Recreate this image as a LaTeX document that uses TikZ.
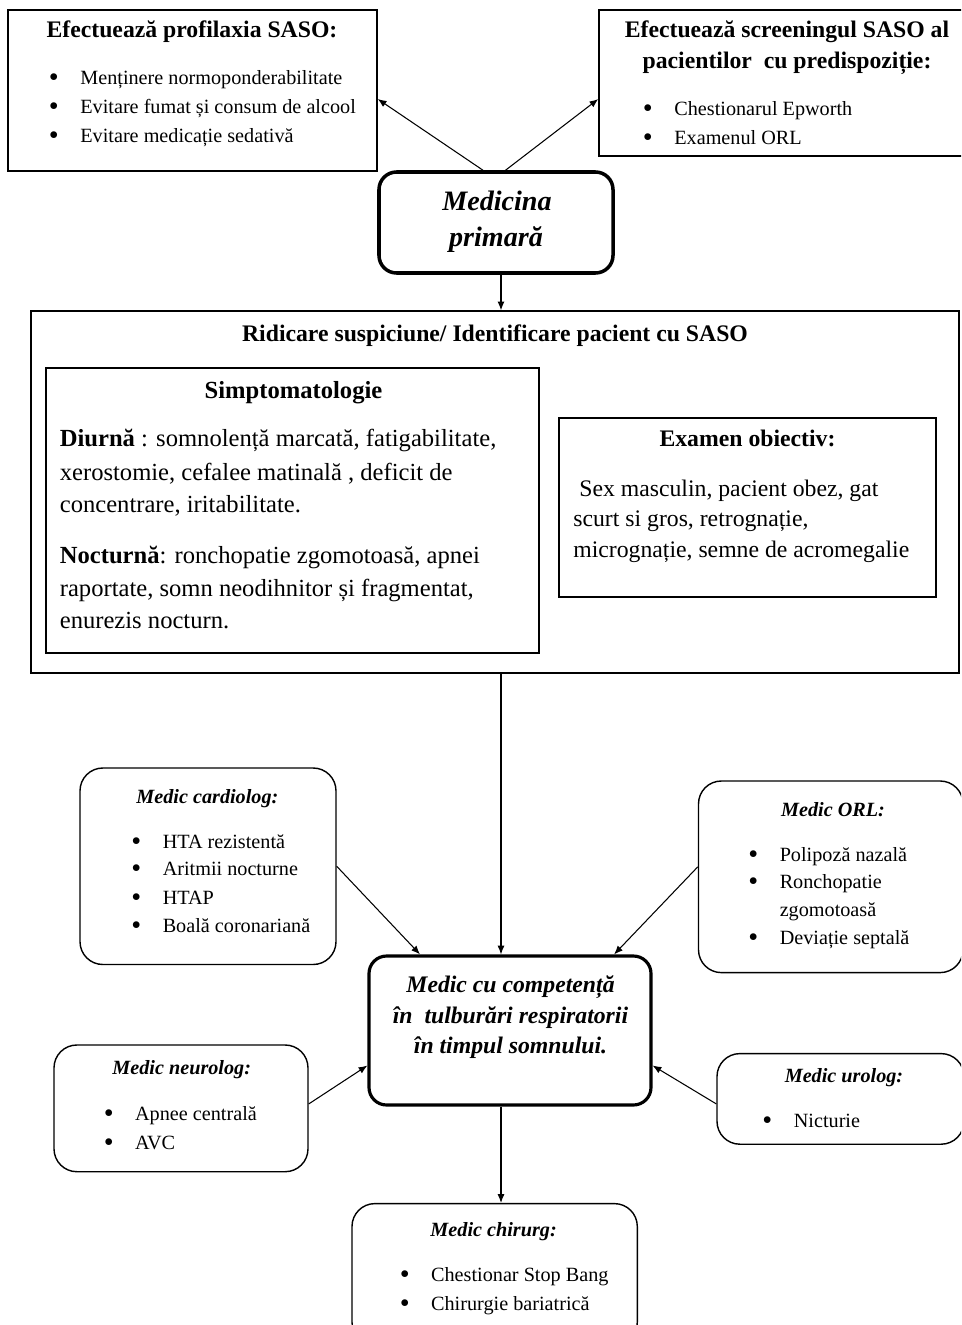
\documentclass[tikz,border=0pt]{standalone}
\usepackage{fontspec}
\setmainfont{Liberation Serif}
\usetikzlibrary{arrows.meta,calc,fit}
\newcommand{\bul}{\llap{\raisebox{-0.1em}{\scalebox{1.4}{\textbullet}}\hspace{0.43cm}}}
\tikzset{
	box/.style={draw, line width=0.8pt, inner sep=0pt},
	rbox/.style={box, rounded corners=13pt},
	mainbox/.style={draw, line width=1.8pt, inner sep=0pt, rounded corners=10pt},
	head/.style={anchor=base, inner sep=0pt, font=\fontsize{13.5}{16}\selectfont\bfseries},
	item/.style={anchor=base west, inner sep=0pt, font=\fontsize{11.5}{14}\selectfont},
	medhead/.style={anchor=base, inner sep=0pt, font=\fontsize{11.5}{14}\selectfont\bfseries\itshape},
	para/.style={anchor=base west, inner sep=0pt, font=\fontsize{14}{17}\selectfont},
	exam/.style={anchor=base west, inner sep=0pt, font=\fontsize{13.5}{16}\selectfont},
	arr/.style={-{Latex[length=5pt,width=4pt]}, line width=0.6pt}
}

\begin{document}
\begin{tikzpicture}[x=0.02cm, y=-0.02cm]
		%%%%% START %%%%%
		\useasboundingbox (0,0) rectangle (961,1325);
		\clip (0,0) rectangle (961,1325);
		
		% medicina primara si cele doua casete de sus
		\node[box, fit={(8,10) (377,171)}] (prof) {};
		\node[head] (profT) at (192,37) {Efectuează profilaxia SASO:};
		\node[item] (prof1) at (80,84) {\bul Menținere normoponderabilitate};
		\node[item] (prof2) at (80,113) {\bul Evitare fumat și consum de alcool};
		\node[item] (prof3) at (80,142.5) {\bul Evitare medicație sedativă};
		
		\node[box, fit={(599,10) (966,156)}] (scr) {};
		\node[head] (scrT1) at (787,37) {Efectuează screeningul SASO al};
		\node[head] (scrT2) at (787,68) {pacientilor\ \ cu predispoziție:};
		\node[item] (scr1) at (674,115) {\bul Chestionarul Epworth};
		\node[item] (scr2) at (674,144.5) {\bul Examenul ORL};
		
		\node[mainbox, line width=2pt, fit={(379,172) (613,273)}] (prim) {};
		\node[anchor=base, inner sep=0pt, font=\fontsize{16}{19}\selectfont\bfseries\itshape] (primT1) at (497,210) {Medicina};
		\node[anchor=base, inner sep=0pt, font=\fontsize{16}{19}\selectfont\bfseries\itshape] (primT2) at (496,246.5) {primară};
		
		\draw[arr] ($(prim.north)+(-13,0)$) -- ($(prof.east)+(0,8.5)$);
		\draw[arr] ($(prim.north)+(9.5,0)$) -- ($(scr.west)+(0,16)$);
		
		% suspiciune
		\coordinate (axis) at (501,0);
		\node[box, fit={(31,311) (959,673)}] (ridic) {};
		\node[head] (ridicT) at (495,341.5) {Ridicare suspiciune/ Identificare pacient cu SASO};
		\draw[arr] (prim.south -| axis) -- (ridic.north -| axis);
		
		\node[box, fit={(46,368) (539,653)}] (simpt) {};
		\node[head, font=\fontsize{14}{17}\selectfont\bfseries] (simptT) at (293.5,398) {Simptomatologie};
		\node[para] (d1) at (59.5,446.5) {\textbf{Diurnă} : somnolență marcată, fatigabilitate,};
		\node[para] (d2) at (59.5,480) {xerostomie, cefalee matinală , deficit de};
		\node[para] (d3) at (59.5,512) {concentrare, iritabilitate.};
		\node[para] (n1) at (59.5,563) {\textbf{Nocturnă}: ronchopatie zgomotoasă, apnei};
		\node[para] (n2) at (59.5,596.5) {raportate, somn neodihnitor și fragmentat,};
		\node[para] (n3) at (59.5,628) {enurezis nocturn.};
		
		\node[box, fit={(559,418) (936,597)}] (ob) {};
		\node[head] (obT) at (747.5,446.5) {Examen obiectiv:};
		\node[exam] (ob1) at (579,496) {Sex masculin, pacient obez, gat};
		\node[exam] (ob2) at (573,526) {scurt si gros, retrognație,};
		\node[exam] (ob3) at (573,557) {micrognație, semne de acromegalie};
		
		% medicul specialist in centru
		\node[mainbox, fit={(369,956) (651,1105)}] (spec) {};
		\node[head, font=\fontsize{13.5}{16}\selectfont\bfseries\itshape] (specT1) at (510.5,992.5) {Medic cu competență};
		\node[head, font=\fontsize{13.5}{16}\selectfont\bfseries\itshape] (specT2) at (510.5,1023.3) {în\ \ tulburări respiratorii};
		\node[head, font=\fontsize{13.5}{16}\selectfont\bfseries\itshape] (specT3) at (510.5,1053.5) {în timpul somnului.};
		\draw[arr] (ridic.south -| axis) -- (spec.north -| axis);
		
		\node[rbox, fit={(80,768) (336,964.5)}] (card) {};
		\node[medhead] (cardT) at (207.4,803) {Medic cardiolog:};
		\node[item] (card1) at (162.4,848.3) {\bul HTA rezistentă};
		\node[item] (card2) at (162.4,875.4) {\bul Aritmii nocturne};
		\node[item] (card3) at (162.4,904) {\bul HTAP};
		\node[item] (card4) at (162.4,932.6) {\bul Boală coronariană};
		
		\node[rbox, fit={(698.5,781) (963,972.6)}] (orl) {};
		\node[medhead] (orlT) at (833,816) {Medic ORL:};
		\node[item] (orl1) at (779.4,861.8) {\bul Polipoză nazală};
		\node[item] (orl2) at (779.4,888.6) {\bul Ronchopatie};
		\node[item] (orl3) at (779.4,916.8) {zgomotoasă};
		\node[item] (orl4) at (779.4,944.4) {\bul Deviație septală};
		
		\node[rbox, fit={(54,1045) (308,1171.7)}] (neuro) {};
		\node[medhead] (neuroT) at (181.7,1074.5) {Medic neurolog:};
		\node[item] (neuro1) at (134.8,1120.4) {\bul Apnee centrală};
		\node[item] (neuro2) at (134.8,1149.7) {\bul AVC};
		
		\node[rbox, fit={(717,1053.6) (964,1144.2)}] (uro) {};
		\node[medhead] (uroT) at (844,1082) {Medic urolog:};
		\node[item] (uro1) at (793.5,1127.7) {\bul Nicturie};
		
		\node[rbox, fit={(352,1203.6) (637.3,1345)}] (chir) {};
		\node[medhead] (chirT) at (493.6,1236) {Medic chirurg:};
		\node[item] (chir1) at (430.8,1281.7) {\bul Chestionar Stop Bang};
		\node[item] (chir2) at (430.8,1310) {\bul Chirurgie bariatrică};
		
		\draw[arr] (card.east) -- ($(spec.north west)+(52.6,0)$);
		\draw[arr] ($(orl.west)+(0,-10)$) -- ($(spec.north east)+(-38.5,0)$);
		\draw[arr] ($(neuro.east)+(0,-4.4)$) -- ($(spec.west)+(0,35)$);
		\draw[arr] ($(uro.west)+(0,5)$) -- ($(spec.east)+(0,35)$);
		\draw[arr] (spec.south -| axis) -- (chir.north -| axis);
		
		%%%%% END %%%%%
\end{tikzpicture}
\end{document}
